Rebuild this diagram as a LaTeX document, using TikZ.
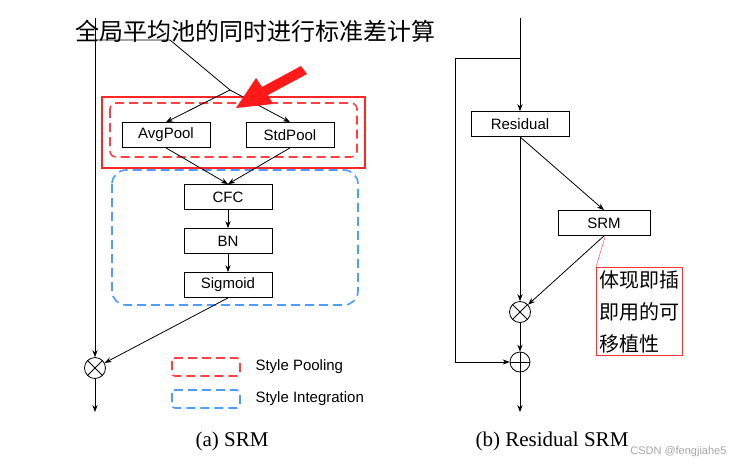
\documentclass[tikz,border=0pt]{standalone}
\usepackage{fontspec}
\setsansfont{Liberation Sans}
\newfontfamily\cjk{Noto Sans CJK SC}
\newfontfamily\capfont{Liberation Serif}
\usetikzlibrary{arrows.meta}
\tikzset{
  blk/.style={draw, thick, font=\sffamily\fontsize{15}{15}\selectfont, minimum width=88pt, minimum height=25pt, inner sep=0pt},
  op/.style={draw, thick, circle, minimum size=21pt, inner sep=0pt},
  arr/.style={-{Stealth[length=7pt]}, thick},
  reddash/.style={draw=red!75, dashed, dash pattern=on 9pt off 5pt, line width=1.6pt, rounded corners=6pt},
  bluedash/.style={draw=blue!55!cyan!70, dashed, dash pattern=on 9pt off 5pt, line width=1.6pt, rounded corners=14pt}
}
\begin{document}
\begin{tikzpicture}[x=1pt,y=-1pt]
	\useasboundingbox (0,0) rectangle (734,464);
	\node[anchor=west, font=\cjk\fontsize{24}{24}\selectfont] (title) at (72,31) {全局平均池的同时进行标准差计算};
	% left: SRM
	\coordinate (top) at (95,18);
	\coordinate (split) at (230,90);
	\node[blk] (avg) at (166,135) {AvgPool};
	\node[blk] (std) at (290,135) {StdPool};
	\node[blk] (cfc) at (228,197) {CFC};
	\node[blk] (bn) at (228,241) {BN};
	\node[blk] (sig) at (228,285) {Sigmoid};
	\node[op] (mul) at (95,368) {};
	\draw[thick] (mul.north west) -- (mul.south east) (mul.north east) -- (mul.south west);
	\coordinate (outa) at (95,412);
	\draw[reddash] (110,103) rectangle (357,157);
	\draw[draw=red!85, line width=1.6pt] (102,97) rectangle (365,168);
	\draw[bluedash] (112,170) rectangle (358,305);
	\draw[arr] (top) -- (mul);
	\draw[thick] (95,40) -- (170,40) -- (split);
	\draw[arr] (split) -- (avg.north);
	\draw[arr] (split) -- (std.north);
	\draw[arr] (avg.south) -- (cfc.north);
	\draw[arr] (std.south) -- (cfc.north);
	\draw[arr] (cfc) -- (bn);
	\draw[arr] (bn) -- (sig);
	\draw[arr] (sig.south) -- (mul);
	\draw[arr] (mul) -- (outa);
	\fill[red!90] (307,74) -- (268,95) -- (273,104) -- (236,108) -- (256,78) -- (262,87) -- (301,66) -- cycle;
	% legend
	\draw[reddash, rounded corners=3pt] (172,358) rectangle (240,376);
	\node[anchor=west, font=\sffamily\fontsize{15}{15}\selectfont] (lp) at (252,367) {Style Pooling};
	\draw[bluedash, rounded corners=3pt] (172,390) rectangle (240,408);
	\node[anchor=west, font=\sffamily\fontsize{15}{15}\selectfont] (li) at (252,399) {Style Integration};
	% right: residual SRM
	\coordinate (topb) at (520,18);
	\node[blk, minimum width=98pt] (res) at (520,124) {Residual};
	\node[blk, minimum width=92pt] (srm) at (604,223) {SRM};
	\node[op] (mulb) at (520,312) {};
	\draw[thick] (mulb.north west) -- (mulb.south east) (mulb.north east) -- (mulb.south west);
	\node[op, minimum size=20pt] (add) at (520,362) {};
	\draw[thick] (add.north) -- (add.south) (add.west) -- (add.east);
	\coordinate (outb) at (520,412);
	\draw[arr] (topb) -- (res);
	\draw[arr] (520,58) -- (455,58) -- (455,362) -- (add.west);
	\draw[arr] (res) -- (mulb);
	\draw[arr] (res.south) -- (srm.north);
	\draw[arr] (srm.south) -- (mulb);
	\draw[arr] (mulb) -- (add);
	\draw[arr] (add) -- (outb);
	\node[draw=red!80, thin, anchor=north west, align=left, inner sep=3pt, font=\cjk\fontsize{20}{32}\selectfont] (note) at (596,267) {体现即插\\即用的可\\移植性};
	\draw[red!80, thin] (605,237) -- (note.north west);
	% captions
	\node[font=\capfont\fontsize{21}{21}\selectfont] (capa) at (232,441) {(a) SRM};
	\node[font=\capfont\fontsize{21}{21}\selectfont] (capb) at (552,441) {(b) Residual SRM};
	\node[anchor=east, text=gray!70, font=\sffamily\fontsize{11}{11}\selectfont] (wm) at (730,452) {CSDN @fengjiahe5};
\end{tikzpicture}
\end{document}
